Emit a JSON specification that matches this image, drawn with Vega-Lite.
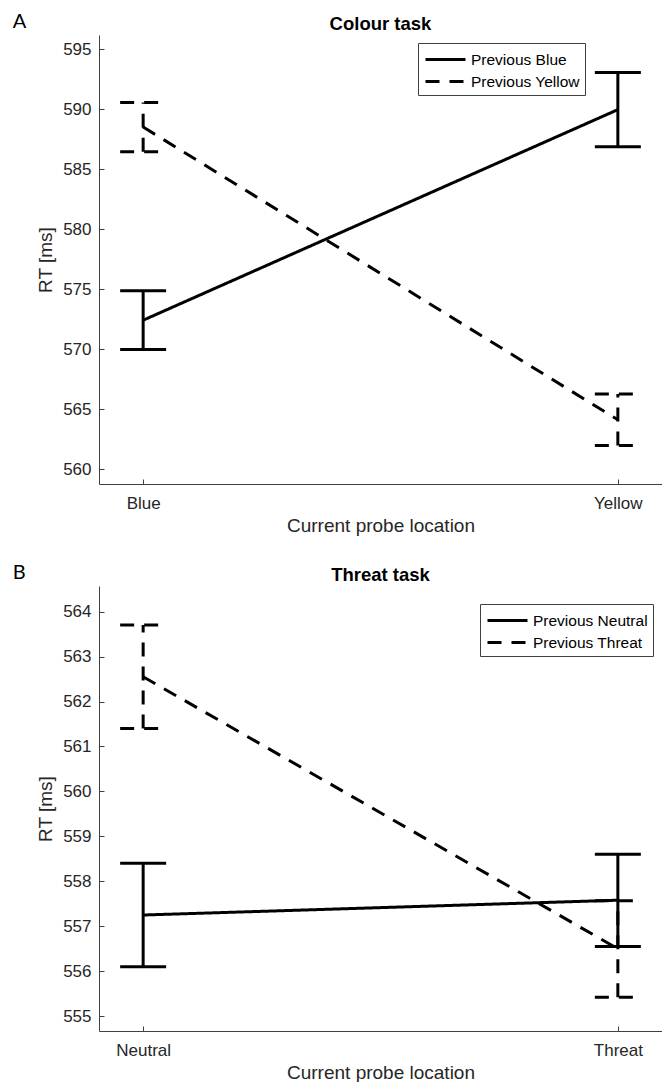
{
  "$schema": "https://vega.github.io/schema/vega-lite/v6.json",
  "background": "white",
  "padding": {"left": 12, "top": 11, "right": 0, "bottom": 0},
  "config": {
    "font": "Liberation Sans",
    "view": {"stroke": null},
    "axis": {
      "domainColor": "#404040", "tickColor": "#404040", "labelColor": "#262626", "titleColor": "#262626",
      "labelFont": "Liberation Sans", "titleFont": "Liberation Sans", "labelFontSize": 17, "titleFontSize": 19,
      "titleFontWeight": "normal", "grid": false, "tickSize": -5, "domainWidth": 1, "tickWidth": 1
    },
    "axisX": {"labelPadding": 16, "titlePadding": 5, "labelAngle": 0},
    "axisY": {"labelPadding": 13, "titlePadding": 7},
    "title": {"font": "Liberation Sans", "fontSize": 18.5, "fontWeight": "bold", "color": "black", "offset": 2},
    "legend": {
      "orient": "none", "title": null, "fillColor": "white", "strokeColor": "#404040", "padding": 5,
      "symbolType": "M-2,0H2", "symbolSize": 400, "symbolStrokeWidth": 3, "symbolStrokeColor": "black",
      "symbolOffset": 11, "labelOffset": 14, "labelFontSize": 15.5, "labelFont": "Liberation Sans",
      "labelColor": "black", "rowPadding": 2, "cornerRadius": 0
    }
  },
  "datasets": {
    "colour": [
      {"cur": "Blue", "prev": "Previous Blue", "rt": 572.4, "lo": 569.95, "hi": 574.85},
      {"cur": "Yellow", "prev": "Previous Blue", "rt": 589.95, "lo": 586.85, "hi": 593.05},
      {"cur": "Blue", "prev": "Previous Yellow", "rt": 588.5, "lo": 586.45, "hi": 590.55},
      {"cur": "Yellow", "prev": "Previous Yellow", "rt": 564.1, "lo": 561.95, "hi": 566.25}
    ],
    "threat": [
      {"cur": "Neutral", "prev": "Previous Neutral", "rt": 557.25, "lo": 556.1, "hi": 558.4},
      {"cur": "Threat", "prev": "Previous Neutral", "rt": 557.58, "lo": 556.55, "hi": 558.6},
      {"cur": "Neutral", "prev": "Previous Threat", "rt": 562.55, "lo": 561.4, "hi": 563.7},
      {"cur": "Threat", "prev": "Previous Threat", "rt": 556.5, "lo": 555.42, "hi": 557.57}
    ]
  },
  "spacing": 27,
  "resolve": {"scale": {"strokeDash": "independent"}, "legend": {"strokeDash": "independent"}},
  "vconcat": [
    {
      "title": {"text": "A", "anchor": "start", "frame": "bounds", "font": "Lato", "fontSize": 20, "fontWeight": "normal", "dx": -24, "dy": 17, "offset": 0},
      "vconcat": [
        {
          "title": "Colour task",
          "width": 563,
          "height": 449,
          "data": {"name": "colour"},
          "encoding": {
            "x": {"field": "cur", "type": "nominal", "sort": ["Blue", "Yellow"], "scale": {"type": "point", "padding": 0.093}, "axis": {"title": "Current probe location"}},
            "strokeDash": {"field": "prev", "type": "nominal", "scale": {"range": [[1, 0], [14, 10]]}, "legend": {"legendX": 319, "legendY": 8}}
          },
          "layer": [
            {"mark": {"type": "line", "color": "black", "strokeWidth": 3},
             "encoding": {"y": {"field": "rt", "type": "quantitative", "title": "RT [ms]", "scale": {"domain": [558.75, 596.17], "nice": false, "zero": false}, "axis": {"values": [560, 565, 570, 575, 580, 585, 590, 595]}}}},
            {"mark": {"type": "rule", "color": "black", "strokeWidth": 3},
             "encoding": {"y": {"field": "lo", "type": "quantitative", "title": "RT [ms]"}, "y2": {"field": "hi"}}},
            {"mark": {"type": "rule", "color": "black", "strokeWidth": 3, "xOffset": -23, "x2Offset": 23},
             "encoding": {"y": {"field": "hi", "type": "quantitative", "title": "RT [ms]"}, "x2": {"field": "cur"}}},
            {"mark": {"type": "rule", "color": "black", "strokeWidth": 3, "xOffset": -23, "x2Offset": 23},
             "encoding": {"y": {"field": "lo", "type": "quantitative", "title": "RT [ms]"}, "x2": {"field": "cur"}}}
          ]
        }
      ]
    },
    {
      "title": {"text": "B", "anchor": "start", "frame": "bounds", "font": "Lato", "fontSize": 20, "fontWeight": "normal", "dx": -24, "dy": 17, "offset": 0},
      "vconcat": [
        {
          "title": "Threat task",
          "width": 563,
          "height": 445,
          "data": {"name": "threat"},
          "encoding": {
            "x": {"field": "cur", "type": "nominal", "sort": ["Neutral", "Threat"], "scale": {"type": "point", "padding": 0.093}, "axis": {"title": "Current probe location"}},
            "strokeDash": {"field": "prev", "type": "nominal", "scale": {"range": [[1, 0], [14, 10]]}, "legend": {"legendX": 381, "legendY": 18}}
          },
          "layer": [
            {"mark": {"type": "line", "color": "black", "strokeWidth": 3},
             "encoding": {"y": {"field": "rt", "type": "quantitative", "title": "RT [ms]", "scale": {"domain": [554.67, 564.57], "nice": false, "zero": false}, "axis": {"values": [555, 556, 557, 558, 559, 560, 561, 562, 563, 564]}}}},
            {"mark": {"type": "rule", "color": "black", "strokeWidth": 3},
             "encoding": {"y": {"field": "lo", "type": "quantitative", "title": "RT [ms]"}, "y2": {"field": "hi"}}},
            {"mark": {"type": "rule", "color": "black", "strokeWidth": 3, "xOffset": -23, "x2Offset": 23},
             "encoding": {"y": {"field": "hi", "type": "quantitative", "title": "RT [ms]"}, "x2": {"field": "cur"}}},
            {"mark": {"type": "rule", "color": "black", "strokeWidth": 3, "xOffset": -23, "x2Offset": 23},
             "encoding": {"y": {"field": "lo", "type": "quantitative", "title": "RT [ms]"}, "x2": {"field": "cur"}}}
          ]
        }
      ]
    }
  ]
}
